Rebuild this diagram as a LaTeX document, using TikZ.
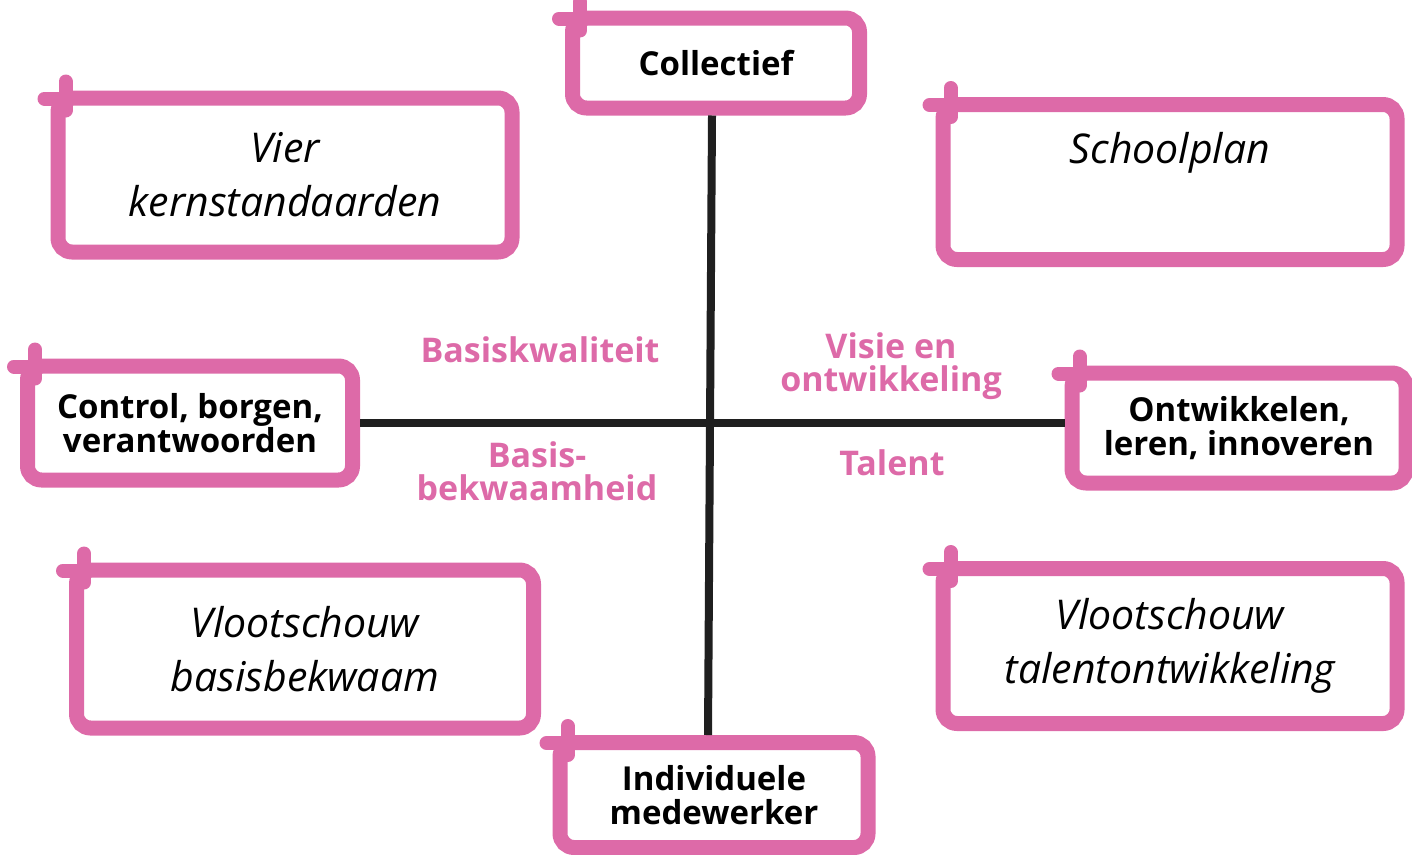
\documentclass[tikz,border=0pt]{standalone}
\usepackage{fontspec}
\setmainfont{Open Sans}
\definecolor{roze}{RGB}{221,106,168}
\tikzset{
  kader/.style={draw=roze, line width=15pt, fill=white, rounded corners=14pt, align=center, inner sep=0pt},
  groot/.style={align=center, font=\fontsize{41}{54}\selectfont\itshape},
  klein/.style={font=\fontsize{33}{34}\selectfont\bfseries},
  roos/.style={text=roze, align=center, font=\fontsize{34}{33}\selectfont\bfseries},
  haak/.style={roze, line width=14pt, line cap=round},
  as/.style={line width=8pt, black!88}
}
\begin{document}
\begin{tikzpicture}[x=1pt,y=-1pt]
\useasboundingbox (0,0) rectangle (1412,854);


\node[kader, groot, minimum width=454, minimum height=154] (v1) at (285,175) {Vier\\kernstandaarden};

\node[kader, klein, minimum width=287, minimum height=90] (v2) at (716,63) {Collectief};

\node[kader, minimum width=454, minimum height=155] (v3) at (1170,182) {};
\node[groot] (v4) at (1170,153) {Schoolplan};

\node[kader, klein, minimum width=325, minimum height=114] (v5) at (190,423) {Control, borgen,\\verantwoorden};

\node[kader, klein, minimum width=334, minimum height=110] (v6) at (1239,428) {Ontwikkelen,\\leren, innoveren};

\node[kader, groot, minimum width=457, minimum height=158] (v7) at (305,649) {Vlootschouw\\basisbekwaam};

\node[kader, groot, minimum width=454, minimum height=155] (v8) at (1170,646) {Vlootschouw\\talentontwikkeling};

\node[kader, klein, minimum width=308, minimum height=105] (v9) at (714,795) {Individuele\\medewerker};

\foreach \n in {v1,v2,v3,v5,v6,v7,v8,v9}
  \draw[haak] ([shift={(-6,8)}]\n.north west) -- ([shift={(20,8)}]\n.north west)
              ([shift={(15,-9)}]\n.north west) -- ([shift={(15,20)}]\n.north west);


\draw[as] ([xshift=-4pt]v2.south) -- ([xshift=-6pt]v9.north);
\draw[as] (v5.east) -- (v5.east -| v6.west);


\node[roos] (v10) at (540,350) {Basiskwaliteit};
\node[roos] (v11) at (891,366) {Visie en\\ontwikkeling};
\node[roos] (v12) at (537,471) {Basis-\\bekwaamheid};
\node[roos] (v13) at (892,463) {Talent};

\end{tikzpicture}
\end{document}
